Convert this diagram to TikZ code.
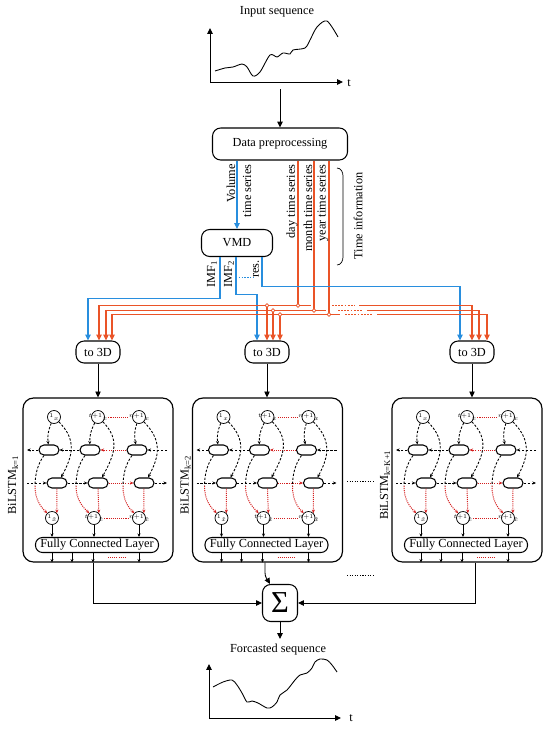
\documentclass[tikz,border=0pt]{standalone}
\usepackage{fontspec}
\setmainfont{Liberation Serif}
\usepackage{graphicx}
\usetikzlibrary{arrows.meta,positioning}

\definecolor{volblue}{RGB}{40,142,222}
\definecolor{timered}{RGB}{234,84,40}
\definecolor{dotred}{RGB}{212,30,30}

\tikzset{
    wire/.style={line width=0.75pt},
    arr/.style={-{Triangle[length=5pt,width=4.6pt]}},
    arrs/.style={-{Stealth[length=3pt,width=2.6pt]}},
    blueln/.style={volblue,line width=0.9pt},
    redln/.style={timered,line width=0.9pt},
    box/.style={draw,line width=0.9pt,rounded corners=7pt,inner sep=0pt},
    bigbox/.style={draw,line width=1pt,rounded corners=9pt,minimum width=4.5cm,minimum height=4.92cm},
    cell/.style={draw,line width=0.9pt,rounded corners=0.15cm,minimum width=0.6cm,minimum height=0.3cm,inner sep=0pt},
    unit/.style={draw,circle,line width=0.6pt,minimum size=0.39cm,inner sep=0pt,font=\fontsize{3.4}{4}\selectfont},
    dsh/.style={line width=0.75pt,dash pattern=on 2pt off 1.4pt},
    rdot/.style={dotred,line width=0.85pt,dash pattern=on 0.9pt off 0.9pt},
    junc/.style={circle,draw=timered,fill=white,line width=0.6pt,inner sep=0pt,minimum size=3.2pt},
    vlab/.style={rotate=90,anchor=east,inner sep=1pt},
}

\begin{document}
\begin{tikzpicture}[x=0.03cm,y=0.03cm,every node/.style={font=\fontsize{10.5}{12}\selectfont}]
    \useasboundingbox (0,0) rectangle (550,-729);

    % input sequence
    \node (inp) at (277,-12) {Input sequence};
    \draw[wire,arr] (210,-83) -- (210,-28);
    \draw[wire,arr] (210,-82) -- (343,-82);
    \node (tin) at (349,-83) {t};
    \draw[wire] plot[smooth] coordinates {(215,-71) (225,-68) (233,-67) (242,-64) (247,-67) (253,-76) (260,-72) (270,-55) (277,-57) (283,-53) (290,-54) (293,-50) (305,-48) (310,-40) (317,-27) (327,-21) (338,-37)};

    \coordinate (chin) at (280,-89);
    \node[box,minimum width=4.05cm,minimum height=0.96cm] (dp) at (280,-144) {Data preprocessing};
    \draw[wire,arr] (chin) -- (dp);

    \node[box,minimum width=2.13cm,minimum height=0.81cm] (vmd) at (237,-243) {VMD};
    \draw[blueln,arr] (vmd.north |- dp.south) -- (vmd.north);
    \node[vlab] (vol) at (231,-163) {Volume};
    \node[vlab] (vts) at (247,-163) {time series};

    % time series lines
    \draw[redln] ([xshift=0.54cm]dp.south) -- ++(0,-145) coordinate (j1);
    \draw[redln] ([xshift=1.02cm]dp.south) -- ++(0,-150) coordinate (j2);
    \draw[redln] ([xshift=1.47cm]dp.south) -- ++(0,-154) coordinate (j3);
    \node[vlab] (day) at (292,-163) {day time series};
    \node[vlab] (mon) at (308,-163) {month time series};
    \node[vlab] (yr) at (323,-163) {year time series};

    \draw[line width=0.6pt] (337,-168) to[out=0,in=90] (343,-176) -- (343,-257) to[out=-90,in=0] (337,-265);
    \node[rotate=90] (tinf) at (358,-216) {Time information};

    % to 3D
    \node[box,minimum width=1.32cm,minimum height=0.66cm] (td1) at (98,-352) {to 3D};
    \node[box,minimum width=1.32cm,minimum height=0.66cm] (td2) at (267,-352) {to 3D};
    \node[box,minimum width=1.32cm,minimum height=0.66cm] (td3) at (472,-352) {to 3D};

    % VMD outputs
    \node[vlab] (imf1) at (212,-259) {IMF\textsubscript{1}};
    \node[vlab] (imf2) at (229,-259) {IMF\textsubscript{2}};
    \node[vlab] (res) at (256,-259) {res.};
    \draw[blueln,arr] ([xshift=-0.51cm]vmd.south) -- ++(0,-41) -| ([xshift=-0.3cm]td1.north);
    \draw[blueln,arr] ([xshift=-0.03cm]vmd.south) -- ++(0,-37) -| ([xshift=-0.3cm]td2.north);
    \draw[blueln,arr] ([xshift=0.75cm]vmd.south) -- ++(0,-29.5) -| ([xshift=-0.36cm]td3.north);
    \draw[volblue,line width=0.9pt,dash pattern=on 1.2pt off 1.2pt] ([xshift=-0.03cm,yshift=-0.615cm]vmd.south) -- ++(18,0);

    % red distribution
    \path ([xshift=0.18cm]td2.north) coordinate (t2b) ([xshift=0.39cm]td2.north) coordinate (t2c);
    \draw[redln,arr] (j1) -| ([xshift=0.03cm]td1.north);
    \draw[redln,arr] (j2) -| ([xshift=0.24cm]td1.north);
    \draw[redln,arr] (j3) -| ([xshift=0.42cm]td1.north);
    \draw[redln] (j1) -- ++(13,0);
    \draw[redln] (j2) -- ++(12,0);
    \draw[redln] (j3) -- ++(11,0);
    \draw[redln,arr] (td2.north |- j1) -- (td2.north);
    \draw[redln,arr] (t2b |- j2) -- (t2b);
    \draw[redln,arr] (t2c |- j3) -- (t2c);
    \draw[redln,dash pattern=on 1.5pt off 1.2pt] ([xshift=1.02cm]j1) -- ++(23,0);
    \draw[redln,dash pattern=on 1.5pt off 1.2pt] ([xshift=0.72cm]j2) -- ++(24,0);
    \draw[redln,dash pattern=on 1.5pt off 1.2pt] ([xshift=0.48cm]j3) -- ++(27,0);
    \draw[redln,arr] ([xshift=1.83cm]j1) -| (td3.north);
    \draw[redln,arr] ([xshift=1.59cm]j2) -| ([xshift=0.21cm]td3.north);
    \draw[redln,arr] ([xshift=1.44cm]j3) -| ([xshift=0.45cm]td3.north);
    \node[junc] (jc1) at (j1) {};
    \node[junc] (jc2) at (j2) {};
    \node[junc] (jc3) at (j3) {};
    \node[junc] (jc4) at (td2.north |- j1) {};
    \node[junc] (jc5) at (t2b |- j2) {};
    \node[junc] (jc6) at (t2c |- j3) {};

    % BiLSTM blocks
    \foreach \k/\cx/\bsub/\lx in {1/98/{k=1}/-85, 2/267.5/{k=2}/-82, 3/467/{k=K+1}/-82} {
      \begin{scope}[shift={(\cx,-480)}]
        \node[bigbox] (bl\k) at (0,0) {};
        \node[rotate=90] (bn\k) at (\lx,-5) {BiLSTM\textsubscript{\bsub}};
        \foreach \i/\tx/\ux/\wx/\ox/\tlab in {1/-44/-49/-41/-46/1, 2/0/-8/0/-4/t+1, 3/41/39/46/41/n+1} {
          \node[unit] (tc\k-\i) at (\tx,63) {\makebox[0pt]{${}^{\tlab}x$}};
          \node[cell] (ua\k-\i) at (\ux,30) {};
          \node[cell] (la\k-\i) at (\wx,-3) {};
          \node[unit] (oc\k-\i) at (\ox,-38) {\makebox[0pt]{${}^{\tlab}\hat{x}$}};
          \coordinate (md\k-\i) at (\ux-14,-6);
        }
        \node[box,rounded corners=6pt,minimum width=3.69cm,minimum height=0.45cm] (fc\k) at (-1,-65) {Fully Connected Layer};
        \coordinate (ul\k) at (-71,30);
        \coordinate (ur\k) at (69,30);
        \coordinate (ll\k) at (-71,-3);
        \coordinate (lr\k) at (69,-3);
        \draw[dsh,arrs] (ua\k-1) -- (ul\k);
        \draw[dsh,arrs] (ua\k-2) -- (ua\k-1);
        \draw[rdot,arrs] (ua\k-3) -- (ua\k-2);
        \draw[dsh,arrs] (ur\k) -- (ua\k-3);
        \draw[dsh,arrs] (ll\k) -- (la\k-1);
        \draw[dsh,arrs] (la\k-1) -- (la\k-2);
        \draw[rdot,arrs] (la\k-2) -- (la\k-3);
        \draw[dsh,arrs] (la\k-3) -- (lr\k);
        \foreach \i in {1,2,3} {
          \draw[dsh,arrs] (tc\k-\i) to[bend right=15] (ua\k-\i);
          \draw[dsh,arrs] (tc\k-\i.south east) .. controls +(18,-18) and +(12,22) .. ([xshift=0.12cm]la\k-\i.north);
          \draw[dsh] ([xshift=-0.15cm]ua\k-\i.south) .. controls +(-6,-8) and +(0,12) .. (md\k-\i);
          \draw[rdot,arrs] (md\k-\i) .. controls +(0,-14) and +(-6,6) .. (oc\k-\i.north west);
          \draw[rdot,arrs] (la\k-\i.south) -- (oc\k-\i.north east);
          \draw[arrs,line width=0.6pt] (oc\k-\i) -- (oc\k-\i |- fc\k.north);
        }
        \draw[rdot,shorten <=3pt,shorten >=3pt] (tc\k-2) -- (tc\k-3);
        \draw[rdot,shorten <=3pt,shorten >=3pt] (oc\k-2) -- (oc\k-3);
        \foreach \x in {-45,-25,-4,42}
          \draw[arrs,line width=0.6pt] ([xshift=\x*0.03cm]fc\k.south) -- ++(0,-9.5);
        \draw[rdot] (10,-77) -- (27,-77);
      \end{scope}
      \draw[wire,arr] (td\k) -- (td\k |- bl\k.north);
    }
    \draw[wire,dash pattern=on 1pt off 1.2pt] (347,-481) -- (373,-481);
    \draw[wire,dash pattern=on 1pt off 1.2pt] (347,-575) -- (375,-575);

    % sum and output
    \node[box,minimum width=1.05cm,minimum height=1.11cm,font=\fontsize{26}{26}\selectfont] (sum) at (280,-603) {Σ};
    \draw[wire,arr] ([xshift=-0.15cm]bl1.south) |- (sum.west);
    \draw[wire,arr] ([xshift=0.24cm]bl3.south) |- (sum.east);
    \draw[wire,arr] ([xshift=-0.075cm]bl2.south) -- ++(0,-10) to[out=-90,in=120] ([xshift=-0.3cm]sum.north);

    \coordinate (fout) at (280,-639);
    \draw[wire,arr] (sum) -- (fout);
    \node (fcs) at (278,-650) {Forcasted sequence};
    \draw[wire,arr] (209,-719) -- (209,-664);
    \draw[wire,arr] (209,-718) -- (341,-718);
    \node (tout) at (351,-718) {t};
    \draw[wire] plot[smooth] coordinates {(213,-687) (223,-682) (232,-680) (237,-685) (242,-693) (247,-702) (252,-701) (258,-703) (267,-708) (272,-707) (277,-702) (280,-695) (287,-690) (295,-680) (300,-675) (307,-673) (312,-668) (315,-662) (320,-659) (327,-660) (332,-665) (337,-672)};
\end{tikzpicture}
\end{document}
